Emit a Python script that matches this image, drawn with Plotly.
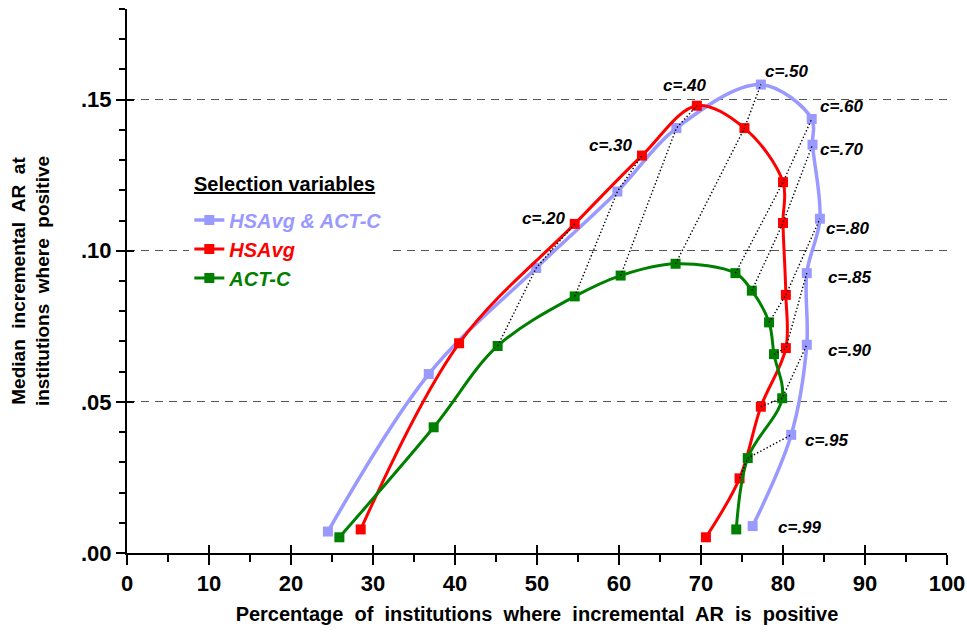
import plotly.graph_objects as go

# ---------------- data ----------------
both_x = [24.5, 36.8, 49.9, 59.8, 67.0, 77.3, 83.5, 83.6, 84.5, 82.9, 82.9, 81.0, 76.3]
both_y = [0.0071, 0.0592, 0.0943, 0.1196, 0.1406, 0.1550, 0.1436, 0.1351, 0.1106, 0.0926, 0.0689, 0.0391, 0.0089]

hsavg_x = [28.5, 40.5, 54.6, 62.8, 69.5, 75.3, 80.0, 80.0, 80.35, 80.35, 77.3, 74.7, 70.6]
hsavg_y = [0.0078, 0.0694, 0.1089, 0.1315, 0.1480, 0.1406, 0.1227, 0.1092, 0.0854, 0.0678, 0.0484, 0.0247, 0.0052]

actc_x = [25.9, 37.4, 45.2, 54.6, 60.2, 66.9, 74.2, 76.2, 78.3, 78.9, 79.9, 75.7, 74.3]
actc_y = [0.0052, 0.0416, 0.0685, 0.0849, 0.0918, 0.0957, 0.0926, 0.0868, 0.0763, 0.0658, 0.0512, 0.0314, 0.0078]

series_names = ["HSAvg &amp; ACT-C", "HSAvg", "ACT-C"]
legend_title = "Selection variables"

# cutoff labels: (text, series, point index)
cut_labels = ["c=.20", "c=.30", "c=.40", "c=.50", "c=.60", "c=.70", "c=.80", "c=.85", "c=.90", "c=.95", "c=.99"]
cut_series = ["hsavg", "hsavg", "hsavg", "both", "both", "both", "both", "both", "both", "both", "both"]
cut_index = [2, 3, 4, 5, 6, 7, 8, 9, 10, 11, 12]
# indices of the points joined by the dotted connectors (same cutoff)
connector_index = [2, 3, 4, 5, 6, 7, 8, 9, 10, 11]

x_ticks = [0, 10, 20, 30, 40, 50, 60, 70, 80, 90, 100]
y_ticks = [0.00, 0.05, 0.10, 0.15]
y_ticktext = [".00", ".05", ".10", ".15"]

# ---------------- style ----------------
C_BOTH = "#9999FF"
C_HS = "#FF0000"
C_ACT = "#008000"
FONT = "Arial, Liberation Sans, sans-serif"

label_shift = [(-31, 5), (-31, 10), (-12, 20), (26, 13), (30, 13), (29, -5),
               (28, -10), (43, -4), (43, -6), (36, -6), (47, -1)]

data = {
    "both": (both_x, both_y),
    "hsavg": (hsavg_x, hsavg_y),
    "actc": (actc_x, actc_y),
}

fig = go.Figure()

for key, color, name, lw in [("both", C_BOTH, series_names[0], 3.5),
                             ("hsavg", C_HS, series_names[1], 3),
                             ("actc", C_ACT, series_names[2], 3)]:
    xs, ys = data[key]
    fig.add_trace(go.Scatter(
        x=xs, y=ys, mode="lines+markers",
        line=dict(color=color, width=lw, shape="spline", smoothing=1.0),
        marker=dict(symbol="square", size=10, color=color),
        name="<b><i><span style='color:%s'>%s</span></i></b>" % (color, name),
    ))

# dotted connectors between points with same cutoff
cx, cy = [], []
for i in connector_index:
    pts = [(actc_x[i], actc_y[i]), (both_x[i], both_y[i]), (hsavg_x[i], hsavg_y[i])]
    pts.sort(key=lambda p: p[1])
    for p in pts:
        cx.append(p[0])
        cy.append(p[1])
    cx.append(None)
    cy.append(None)
fig.add_trace(go.Scatter(x=cx, y=cy, mode="lines", showlegend=False,
                         line=dict(color="black", width=1.4, dash="1.4px,2.2px"),
                         hoverinfo="skip"))

# helper axes for the inner half of the crossing major ticks
fig.add_trace(go.Scatter(x=[None], y=[None], xaxis="x2", yaxis="y2", showlegend=False))

annotations = []
for txt, s, idx, (dx, dy) in zip(cut_labels, cut_series, cut_index, label_shift):
    xs, ys = data[s]
    annotations.append(dict(
        x=xs[idx], y=ys[idx], xref="x", yref="y", text="<b><i>%s</i></b>" % txt,
        showarrow=False, xanchor="center", yanchor="middle", xshift=dx, yshift=dy,
        font=dict(family=FONT, size=17, color="black"),
    ))
annotations.append(dict(
    x=0.0793, y=0.678, xref="paper", yref="paper", xanchor="left", yanchor="middle",
    text="<b><u>%s</u></b>" % legend_title, showarrow=False,
    font=dict(family=FONT, size=20, color="black"),
))

fig.update_layout(
    width=967, height=632, autosize=False,
    margin=dict(l=127, r=20, t=9, b=79, autoexpand=False),
    paper_bgcolor="white", plot_bgcolor="white",
    font=dict(family=FONT, color="black"),
    showlegend=True,
    legend=dict(
        x=0.076, y=0.648, xanchor="left", yanchor="top",
        bgcolor="white", borderwidth=0,
        font=dict(family=FONT, size=20),
        itemwidth=30, tracegroupgap=0,
    ),
    annotations=annotations,
    xaxis=dict(
        range=[0, 100], tickvals=x_ticks, ticks="outside", ticklen=10, tickwidth=2, tickcolor="black",
        showline=True, linecolor="black", linewidth=2, showgrid=False, zeroline=False,
        automargin=False,
        minor=dict(dtick=5, tick0=0, ticks="outside", ticklen=7, tickwidth=2, tickcolor="black", showgrid=False),
        tickfont=dict(family=FONT, size=22, color="black", weight="bold"),
        title=dict(text="Percentage  of  institutions  where  incremental  AR  is  positive",
                   font=dict(family=FONT, size=20, color="black", weight="bold"), standoff=12),
        fixedrange=True,
    ),
    yaxis=dict(
        range=[0, 0.18], tickvals=y_ticks, ticktext=y_ticktext, ticks="outside", ticklen=9, tickwidth=2,
        tickcolor="black", showline=True, linecolor="black", linewidth=2, zeroline=False,
        showgrid=True, gridcolor="#555555", gridwidth=1, griddash="8px,6px",
        minor=dict(dtick=0.01, tick0=0, ticks="outside", ticklen=6, tickwidth=2, tickcolor="black", showgrid=False),
        tickfont=dict(family=FONT, size=22, color="black", weight="bold"),
        title=dict(text="Median  incremental  AR  at<br>institutions  where  positive",
                   font=dict(family=FONT, size=19, color="black", weight="bold"), standoff=26),
        fixedrange=True,
    ),
    xaxis2=dict(
        overlaying="x", anchor="y", side="bottom", range=[0, 100], tickvals=x_ticks,
        ticks="inside", ticklen=8, tickwidth=2, tickcolor="black", showticklabels=False,
        showline=False, showgrid=False, zeroline=False, fixedrange=True, automargin=False,
    ),
    yaxis2=dict(
        overlaying="y", anchor="x", side="left", range=[0, 0.18], tickvals=y_ticks,
        ticks="inside", ticklen=7, tickwidth=2, tickcolor="black", showticklabels=False,
        showline=False, showgrid=False, zeroline=False, fixedrange=True,
    ),
)

fig.write_html(
    "out.html",
    config={"displayModeBar": False},
    post_script="document.body.style.margin='0';document.body.style.overflow='hidden';",
)
